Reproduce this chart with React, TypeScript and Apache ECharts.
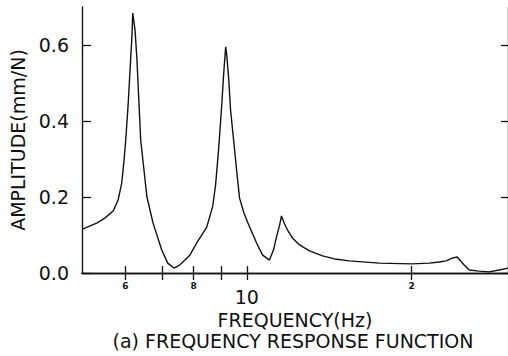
import React, { useEffect, useRef } from "react";
import * as echarts from "echarts";

const FREQ = [5.0, 5.33, 5.51, 5.70, 5.82, 5.91, 5.96, 6.01, 6.07, 6.12, 6.17, 6.19, 6.25, 6.30, 6.35, 6.40, 6.57, 6.74, 6.99, 7.17, 7.36, 7.54, 7.87, 8.10, 8.45, 8.66, 8.77, 8.88, 9.00, 9.07, 9.15, 9.19, 9.27, 9.34, 9.46, 9.58, 9.70, 9.87, 10.03, 10.42, 10.69, 11.00, 11.19, 11.33, 11.48, 11.57, 11.72, 11.87, 12.12, 12.48, 13.02, 13.75, 14.46, 15.39, 17.46, 20.0, 21.54, 22.46, 23.13, 23.72, 24.23, 24.95, 25.48, 26.57, 27.71, 28.90, 30.0];
const AMP = [0.115, 0.132, 0.145, 0.163, 0.192, 0.237, 0.289, 0.35, 0.442, 0.534, 0.626, 0.684, 0.639, 0.561, 0.455, 0.35, 0.20, 0.132, 0.061, 0.026, 0.013, 0.021, 0.047, 0.079, 0.121, 0.174, 0.232, 0.324, 0.442, 0.521, 0.595, 0.574, 0.508, 0.429, 0.35, 0.271, 0.197, 0.16, 0.134, 0.079, 0.047, 0.034, 0.061, 0.095, 0.126, 0.15, 0.129, 0.113, 0.092, 0.074, 0.058, 0.045, 0.037, 0.032, 0.026, 0.024, 0.026, 0.029, 0.032, 0.039, 0.042, 0.021, 0.008, 0.005, 0.003, 0.008, 0.013];

const X_TICKS = [6, 7, 8, 9, 10, 20];
const X_LABELS = [6, 8, 10, 20];
const Y_TICKS = [0, 0.2, 0.4, 0.6];
const X_MIN = 5;
const X_MAX = 30;
const Y_MAX = 0.7;

const FONT = "DejaVu Sans";
const INK = "#111";
const lg = (v: number) => Math.log10(v);

export default function App() {
  const ref = useRef<HTMLDivElement>(null);
  useEffect(() => {
    if (!ref.current) return;
    const chart = echarts.init(ref.current, undefined, { renderer: "svg" });
    const axisLine = { show: true, lineStyle: { color: INK, width: 1.4 } };
    const tickStyle = { color: INK, width: 1.3 };
    const labelFmt = (v: number) => {
      const f = Math.round(Math.pow(10, v));
      if (f === 10) return "{big|10}";
      if (f === 20) return "{s|2}";
      return "{s|" + f + "}";
    };
    chart.setOption({
      animation: false,
      backgroundColor: "#fff",
      grid: { left: 82, right: -1, top: 7, bottom: 83 },
      xAxis: [
        {
          type: "value",
          min: lg(X_MIN),
          max: lg(X_MAX),
          position: "bottom",
          axisLine,
          splitLine: { show: false },
          axisTick: { show: true, inside: true, length: 7, customValues: X_TICKS.map(lg), lineStyle: tickStyle },
          axisLabel: {
            show: true,
            margin: 8,
            customValues: X_LABELS.map(lg),
            formatter: labelFmt,
            rich: {
              s: { fontSize: 9, fontWeight: "bold", fontFamily: FONT, color: INK, lineHeight: 10 },
              big: { fontSize: 19, fontFamily: FONT, color: INK, lineHeight: 20, padding: [11, 0, 0, 0] },
            },
          },
          name: "FREQUENCY(Hz)",
          nameLocation: "middle",
          nameGap: 37,
          nameTextStyle: { fontSize: 19, fontFamily: FONT, color: INK },
        },
        {
          type: "value",
          min: lg(X_MIN),
          max: lg(X_MAX),
          position: "top",
          axisLine,
          splitLine: { show: false },
          axisTick: { show: true, inside: true, length: 7, customValues: X_TICKS.map(lg), lineStyle: tickStyle },
          axisLabel: { show: false },
        },
      ],
      yAxis: [
        {
          type: "value",
          min: 0,
          max: Y_MAX,
          interval: 0.2,
          position: "left",
          axisLine,
          splitLine: { show: false },
          axisTick: { show: true, inside: true, length: 9, customValues: Y_TICKS, lineStyle: tickStyle },
          axisLabel: {
            show: true,
            margin: 13,
            customValues: Y_TICKS,
            formatter: (v: number) => v.toFixed(1),
            fontSize: 19,
            fontFamily: FONT,
            color: INK,
          },
          name: "AMPLITUDE(mm/N)",
          nameLocation: "middle",
          nameGap: 53,
          nameTextStyle: { fontSize: 19, fontFamily: FONT, color: INK },
        },
        {
          type: "value",
          min: 0,
          max: Y_MAX,
          interval: 0.2,
          position: "right",
          axisLine,
          splitLine: { show: false },
          axisTick: { show: true, inside: true, length: 7, customValues: Y_TICKS, lineStyle: tickStyle },
          axisLabel: { show: false },
        },
      ],
      graphic: [
        {
          type: "text",
          x: 293,
          y: 341,
          style: {
            text: "(a) FREQUENCY RESPONSE FUNCTION",
            fontSize: 19,
            fontFamily: FONT,
            fill: INK,
            align: "center",
            verticalAlign: "middle",
          },
        },
      ],
      series: [
        {
          type: "line",
          xAxisIndex: 0,
          yAxisIndex: 0,
          showSymbol: false,
          smooth: false,
          lineStyle: { color: INK, width: 1.4 },
          data: FREQ.map((f, i) => [lg(f), AMP[i]]),
        },
      ],
    });
    return () => chart.dispose();
  }, []);
  return <div ref={ref} style={{ position: "fixed", left: 0, top: 0, width: 508, height: 356 }} />;
}
